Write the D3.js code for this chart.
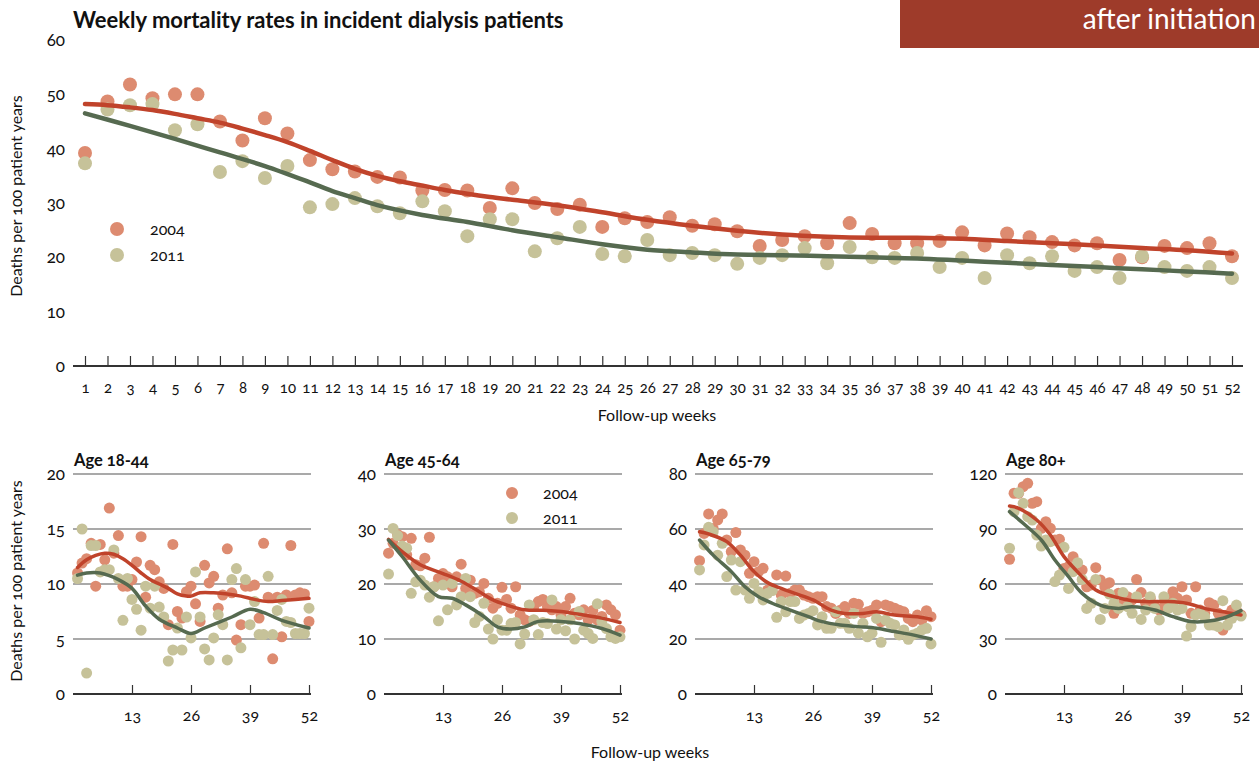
<!DOCTYPE html>
<html><head><meta charset="utf-8">
<script src="https://cdn.jsdelivr.net/npm/d3@7"></script>
<style>
html,body{margin:0;padding:0;background:#fff;}
svg text{font-family:Lato,"Open Sans",sans-serif;font-variant-numeric:oldstyle-nums;font-feature-settings:"onum";fill:#111;}
</style></head>
<body><svg id="c" width="1259" height="763"></svg>
<script>
// ---------- DATA ----------
const weeks = d3.range(1, 53);
const weekTicks = d3.range(1, 53);
const overallYTicks = [0,10,20,30,40,50,60];
const seriesNames = ["2004","2011"];

const overall2004 = [39.2,48.7,51.8,49.3,50,50,45,41.5,45.6,42.8,37.9,36.2,35.8,34.8,34.7,32.3,32.4,32.3,29.1,32.7,30,28.9,29.7,25.6,27.2,26.5,27.4,25.8,26.1,24.8,22.1,23.2,23.9,22.6,26.3,24.3,22.6,22.6,23,24.6,22.2,24.4,23.7,22.8,22.2,22.6,19.5,20.0,22.1,21.7,22.6,20.2];
const overall2011 = [37.3,47.2,48,48.2,43.4,44.5,35.7,37.7,34.6,36.8,29.2,29.8,30.9,29.4,28.1,30.3,28.5,23.9,27,27,21.1,23.5,25.6,20.6,20.2,23.2,20.4,20.8,20.4,18.8,19.9,20.4,21.7,18.9,21.9,20,19.9,20.8,18.2,19.9,16.2,20.4,18.9,20.2,17.5,18.2,16.2,20.2,18.2,17.5,18.2,16.2];
const overallTrendWeeks2004 = [1,2,3,4,5,6,7,8,9,10,11,12,13,14,15,16,17,18,19,20,22,24,26,28,30,32,34,36,38,40,42,44,46,48,50,52];
const overallTrend2004 = [48.2,48.0,47.6,47.1,46.4,45.6,44.8,43.7,42.5,41.2,39.6,37.9,36.3,35.0,34.0,33.2,32.4,31.7,31.1,30.6,29.6,28.3,26.9,25.8,24.9,24.2,23.8,23.6,23.6,23.4,23.0,22.6,22.2,21.7,21.3,20.7];
const overallTrendWeeks2011 = [1,3,5,7,9,11,12,13,14,16,18,20,22,24,26,28,30,32,34,36,38,40,42,44,46,48,50,52];
const overallTrend2011 = [46.5,44.2,41.8,39.3,36.8,33.8,32.2,30.9,29.6,27.8,26.5,25.0,23.7,22.4,21.4,20.9,20.5,20.4,20.2,20.0,19.8,19.4,19.0,18.6,18.2,17.8,17.4,17.0];

const panelTitles = ["Age 18-44","Age 45-64","Age 65-79","Age 80+"];
const panelYTicks = [[0,5,10,15,20],[0,10,20,30,40],[0,20,40,60,80],[0,30,60,90,120]];
const panelXTicks = [13,26,39,52];

const age1844_2004 = [11.0,11.9,12.3,13.7,9.8,13.6,12.2,16.9,12.8,14.4,9.8,9.8,10.4,12.0,14.3,8.8,11.7,11.3,10.2,9.6,6.3,13.6,7.5,6.9,9.3,9.8,8.2,6.6,11.7,10.1,10.7,7.8,9.0,13.2,9.2,4.9,6.3,9.8,9.8,9.9,6.9,13.7,8.8,3.2,8.8,5.2,9.0,13.5,9.0,9.2,9.1,6.6];
const age1844_2011 = [10.5,15.0,1.9,13.5,13.5,11.1,11.3,11.3,13.1,10.5,6.7,10.5,8.6,7.7,5.8,9.8,7.8,9.8,7.9,7.0,3.0,4.0,6.0,4.0,7.0,5.1,11.1,7.0,4.1,3.1,5.1,7.2,6.3,3.1,10.4,11.4,4.2,10.4,6.3,8.4,5.4,5.4,10.7,5.4,7.6,8.6,6.6,6.5,5.5,5.5,5.5,7.8];
const age1844_trendWeeks2004 = [1,3,5,7,9,11,13,15,17,19,21,23,25,26,28,31,34,37,40,43,46,49,52];
const age1844_trend2004 = [11.5,12.2,12.6,12.8,12.7,12.3,11.7,11.0,10.4,10.0,9.6,9.1,8.9,8.9,9.2,9.2,9.1,8.9,8.6,8.4,8.5,8.6,8.7];
const age1844_trendWeeks2011 = [1,3,6,10,13,16,19,23,26,29,35,39,42,46,52];
const age1844_trend2011 = [10.8,11.0,11.0,10.4,9.6,8.0,6.8,6.0,5.5,6.0,7.0,7.7,7.4,6.7,6.0];

const age4564_2004 = [25.6,27.4,29.0,28.6,25.3,28.3,23.5,23.3,24.7,28.5,19.5,21.0,21.9,21.3,19.5,21.3,23.6,19.2,20.7,18.3,18.6,20.1,17.4,15.6,16.5,19.4,17.2,15.6,19.5,14.4,13.5,13.2,15.9,16.8,17.2,15.9,15.3,15.9,14.4,15.9,17.4,14.7,14.4,15.3,13.5,15.2,13.5,14.1,16.2,15.3,14.4,11.6];
const age4564_2011 = [21.8,30.1,28.8,26.9,26.5,18.3,20.4,20.7,19.8,17.6,19.5,13.3,19.8,15.3,20.1,16.2,17.7,21.0,17.7,13.0,14.1,16.5,11.8,10.0,13.5,11.6,11.6,12.8,13.0,9.1,10.9,16.2,13.5,10.8,13.0,12.8,17.1,11.8,13.5,11.5,13.5,10.0,15.0,11.6,11.0,10.1,16.4,13.2,11.9,10.4,10.1,10.4];
const age4564_trendWeeks2004 = [1,4,8,13,17,21,24,27,31,36,39,43,48,52];
const age4564_trend2004 = [28.1,25.9,23.5,21.9,20.5,18.6,17.1,16.2,15.3,15.2,15.0,14.5,13.8,13.0];
const age4564_trendWeeks2011 = [1,4,8,12,15,18,22,25,28,31,34,39,43,48,52];
const age4564_trend2011 = [28.0,25.0,20.7,17.7,17.4,16.2,14.1,12.2,11.8,12.2,13.2,13.2,12.8,11.9,10.7];

const age6579_2004 = [48.5,58.4,65.5,60.2,63.3,65.5,56.0,51.8,58.7,52.4,50.5,43.9,48.1,44.5,45.7,37.8,37.8,43.3,36.0,42.9,36.6,37.8,37.8,36.0,35.4,34.8,35.4,35.4,31.8,31.2,29.3,30.5,31.8,29.3,33.0,32.6,29.3,29.9,30.5,32.4,26.3,32.4,31.8,31.2,30.5,29.9,27.5,26.3,28.7,26.9,30.3,28.1];
const age6579_2011 = [45.1,54.2,60.6,59.0,50.5,54.8,42.7,48.7,37.8,48.1,37.8,34.8,40.2,37.2,34.2,36.6,37.6,27.9,33.6,29.9,33.6,33.6,27.5,28.7,29.3,30.3,25.1,28.1,23.9,23.9,29.9,25.7,25.7,23.9,29.3,22.1,25.7,20.8,22.1,27.5,18.8,26.9,25.7,25.1,21.5,23.3,19.9,21.5,22.1,23.3,23.9,18.2];
const age6579_trendWeeks2004 = [1,3,7,10,13,16,19,22,26,30,33,37,40,44,49,52];
const age6579_trend2004 = [59.0,58.2,55.4,50.5,44.5,40.5,38.4,36.6,34.2,30.5,29.3,29.3,29.9,28.7,28.1,27.2];
const age6579_trendWeeks2011 = [1,4,8,11,14,17,21,25,28,32,36,40,44,48,52];
const age6579_trend2011 = [56.0,50.5,44.5,39.0,35.4,33.0,30.5,28.1,26.3,25.1,24.5,23.9,22.7,21.5,20.0];

const age80_2004 = [73.5,109.5,109.5,113.1,114.9,104.0,104.9,90.4,94.0,90.4,84.0,84.4,68.5,69.5,74.9,68.0,67.6,58.5,59.5,68.9,62.2,58.5,60.7,44.0,54.9,49.5,53.1,51.3,62.5,55.3,49.5,52.2,47.6,45.8,47.6,51.3,55.8,52.2,58.5,51.3,44.0,58.5,45.8,44.0,49.8,48.5,44.0,34.9,43.1,45.8,45.5,43.1];
const age80_2011 = [79.5,99.5,109.8,104.0,96.7,94.9,86.7,80.7,84.0,83.1,61.3,64.9,80.0,57.6,66.7,71.6,62.5,46.7,49.5,62.5,40.7,46.7,54.5,49.5,46.7,55.3,47.6,44.0,53.1,40.7,45.8,53.1,46.7,40.4,53.1,46.7,49.5,45.8,46.7,31.6,36.7,43.1,44.0,42.2,37.6,37.6,36.7,50.9,37.6,41.3,48.5,42.5];
const age80_trendWeeks2004 = [1,3,7,10,13,17,20,24,28,31,36,40,44,49,52];
const age80_trend2004 = [102.5,101.3,94.9,86.7,74.9,64.0,56.7,53.1,50.9,50.4,50.4,49.5,46.7,44.4,43.1];
const age80_trendWeeks2011 = [1,4,8,11,14,17,21,25,28,33,37,41,44,48,52];
const age80_trend2011 = [99.5,93.1,84.0,73.1,64.0,54.9,48.5,46.7,47.6,45.8,42.2,39.5,39.5,41.3,45.5];

// ---------- STYLE ----------
const C = {dot04:"#dd8b70", dot11:"#c6c299", line04:"#c0432b", line11:"#566a50", banner:"#9e3b2a", grid:"#555", axis:"#333"};

const svg = d3.select("#c");

// header
svg.append("rect").attr("x",900).attr("y",0).attr("width",359).attr("height",48).attr("fill",C.banner);
svg.append("text").attr("x",1256).attr("y",29).attr("text-anchor","end").style("fill","#fff").style("font-size","28px").text("after initiation");
svg.append("text").attr("x",73).attr("y",28).style("font-size","22px").style("font-weight","bold").text("Weekly mortality rates in incident dialysis patients");

// ---------- TOP CHART ----------
const x = d3.scaleLinear().domain([1,52]).range([85,1232]);
const y = d3.scaleLinear().domain([0,60]).range([366,40]);
const mainG = svg.append("g");

mainG.append("g").attr("transform","translate(73,0)")
  .call(d3.axisLeft(y).tickValues(overallYTicks).tickSize(0).tickPadding(8).tickFormat(d3.format("d")))
  .call(g=>g.select(".domain").remove())
  .call(g=>g.selectAll("text").style("font-size","17px").style("font-family","Lato,sans-serif"));

const xa = mainG.append("g").attr("transform","translate(0,366)")
  .call(d3.axisBottom(x).tickValues(weekTicks).tickSizeInner(-10).tickSizeOuter(0).tickPadding(16).tickFormat(d3.format("d")));
xa.select(".domain").remove();
xa.selectAll(".tick line").attr("stroke",C.axis).attr("stroke-width",1.2);
xa.selectAll("text").style("font-size","15px").style("font-family","Lato,sans-serif");
mainG.append("line").attr("x1",x.range()[0]-12).attr("x2",x.range()[1]+11).attr("y1",366).attr("y2",366).attr("stroke",C.axis).attr("stroke-width",2);

mainG.append("text").attr("transform","translate(22,196) rotate(-90)").attr("text-anchor","middle").style("font-size","16px").text("Deaths per 100 patient years");
mainG.append("text").attr("x",657).attr("y",421).attr("text-anchor","middle").style("font-size","16px").text("Follow-up weeks");

function dots(g, xs, ys, data, color, r){
  g.append("g").selectAll("circle").data(data).join("circle")
    .attr("cx",(d,i)=>xs(weeks[i])).attr("cy",d=>ys(d)).attr("r",r).attr("fill",color);
}
function trend(g, xs, ys, wk, vals, color, w){
  const line = d3.line().x(d=>xs(d[0])).y(d=>ys(d[1])).curve(d3.curveCatmullRom.alpha(0.5));
  g.append("path").attr("d",line(wk.map((w2,i)=>[w2,vals[i]]))).attr("fill","none").attr("stroke",color).attr("stroke-width",w).attr("stroke-linecap","round");
}
dots(mainG,x,y,overall2004,C.dot04,7);
dots(mainG,x,y,overall2011,C.dot11,7);
trend(mainG,x,y,overallTrendWeeks2004,overallTrend2004,C.line04,4.5);
trend(mainG,x,y,overallTrendWeeks2011,overallTrend2011,C.line11,4.5);

// legend
const lg = mainG.append("g");
seriesNames.forEach((s,i)=>{
  lg.append("circle").attr("cx",117).attr("cy",229+i*26).attr("r",7).attr("fill",i?C.dot11:C.dot04);
  lg.append("text").attr("x",150).attr("y",229+i*26).attr("dy","0.35em").style("font-size","16px").text(s);
});

// ---------- PANELS ----------
const panelData = [
  [age1844_2004,age1844_2011,age1844_trendWeeks2004,age1844_trend2004,age1844_trendWeeks2011,age1844_trend2011],
  [age4564_2004,age4564_2011,age4564_trendWeeks2004,age4564_trend2004,age4564_trendWeeks2011,age4564_trend2011],
  [age6579_2004,age6579_2011,age6579_trendWeeks2004,age6579_trend2004,age6579_trendWeeks2011,age6579_trend2011],
  [age80_2004,age80_2011,age80_trendWeeks2004,age80_trend2004,age80_trendWeeks2011,age80_trend2011]
];
const panelLeft = [73,384,695,1005];
const pw = 238, pTop = 474, pBot = 694;

panelData.forEach((pd,k)=>{
  const L = panelLeft[k];
  const g = svg.append("g");
  const yt = panelYTicks[k];
  const px = d3.scaleLinear().domain([0,52]).range([L,L+236]);
  const py = d3.scaleLinear().domain([0,yt[yt.length-1]]).range([pBot,pTop]);
  g.append("g").selectAll("line").data(yt.filter(v=>v>0)).join("line")
    .attr("x1",L).attr("x2",L+pw).attr("y1",d=>py(d)).attr("y2",d=>py(d)).attr("stroke",C.grid).attr("stroke-width",1.2);
  g.append("g").attr("transform",`translate(${L},0)`)
    .call(d3.axisLeft(py).tickValues(yt).tickSize(0).tickPadding(8).tickFormat(d3.format("d")))
    .call(a=>a.select(".domain").remove())
    .call(a=>a.selectAll("text").style("font-size","17px").style("font-family","Lato,sans-serif"));
  const xa2 = g.append("g").attr("transform",`translate(0,${pBot})`)
    .call(d3.axisBottom(px).tickValues(panelXTicks).tickSizeInner(-9).tickSizeOuter(0).tickPadding(16).tickFormat(d3.format("d")));
  xa2.select(".domain").remove();
  xa2.selectAll(".tick line").attr("stroke",C.axis).attr("stroke-width",1.2);
  xa2.selectAll("text").style("font-size","16px").style("font-family","Lato,sans-serif");
  g.append("line").attr("x1",L).attr("x2",L+pw).attr("y1",pBot).attr("y2",pBot).attr("stroke",C.axis).attr("stroke-width",1.8);
  g.append("text").attr("x",L+1).attr("y",466).style("font-size","16.5px").style("font-weight","bold").text(panelTitles[k]);
  dots(g,px,py,pd[0],C.dot04,5.5);
  dots(g,px,py,pd[1],C.dot11,5.5);
  trend(g,px,py,pd[2],pd[3],C.line04,3.5);
  trend(g,px,py,pd[4],pd[5],C.line11,3.5);
  if(k===1){
    seriesNames.forEach((s,i)=>{
      g.append("circle").attr("cx",512).attr("cy",493+i*25).attr("r",6).attr("fill",i?C.dot11:C.dot04);
      g.append("text").attr("x",543).attr("y",493+i*25).attr("dy","0.35em").style("font-size","16px").text(s);
    });
  }
});
svg.append("text").attr("transform","translate(22,581) rotate(-90)").attr("text-anchor","middle").style("font-size","16px").text("Deaths per 100 patient years");
svg.append("text").attr("x",650).attr("y",758).attr("text-anchor","middle").style("font-size","16px").text("Follow-up weeks");
</script></body></html>
